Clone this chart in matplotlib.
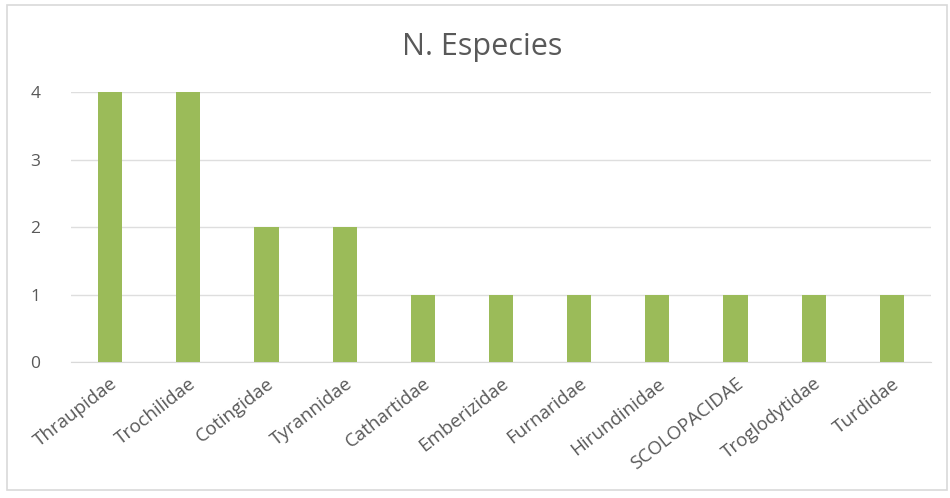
import matplotlib
matplotlib.use("Agg")
import matplotlib.pyplot as plt
from matplotlib.patches import Rectangle

families = ["Thraupidae", "Trochilidae", "Cotingidae", "Tyrannidae", "Cathartidae",
            "Emberizidae", "Furnaridae", "Hirundinidae", "SCOLOPACIDAE",
            "Troglodytidae", "Turdidae"]
n_especies = [4, 4, 2, 2, 1, 1, 1, 1, 1, 1, 1]
y_ticks = [0, 1, 2, 3, 4]

plt.rcParams["font.family"] = ["Open Sans", "DejaVu Sans"]

fig = plt.figure(figsize=(9.5, 4.98), dpi=100)
fig.patch.set_facecolor("white")

# chart frame
fig.add_artist(Rectangle((7 / 950, 1 - 490 / 498), 940 / 950, 485 / 498,
                         transform=fig.transFigure, fill=False,
                         edgecolor="#D9D9D9", linewidth=1.2))

ax = fig.add_axes([71 / 950, 1 - 362 / 498, 860 / 950, 270 / 498])
x = range(len(families))
ax.bar(x, n_especies, width=0.31, color="#9BBB59", zorder=3)

ax.set_ylim(0, 4)
ax.set_xlim(-0.5, len(families) - 0.5)
ax.set_yticks(y_ticks)
ax.set_yticklabels([str(v) for v in y_ticks], fontsize=12.5, color="#595959")
ax.set_xticks(list(x))
ax.set_xticklabels(families, rotation=38, ha="right", rotation_mode="anchor",
                   fontsize=13.5, color="#595959")
ax.tick_params(axis="both", length=0)
ax.tick_params(axis="y", pad=22)
ax.tick_params(axis="x", pad=9)
ax.yaxis.grid(True, color="#DEDEDE", linewidth=1, zorder=0)
for side in ["top", "right", "left"]:
    ax.spines[side].set_visible(False)
ax.spines["bottom"].set_color("#D9D9D9")

fig.text(482 / 950, 1 - 47 / 498, "N. Especies", ha="center", va="center",
         fontsize=22, color="#595959")

fig.savefig("out.png", dpi=100)
